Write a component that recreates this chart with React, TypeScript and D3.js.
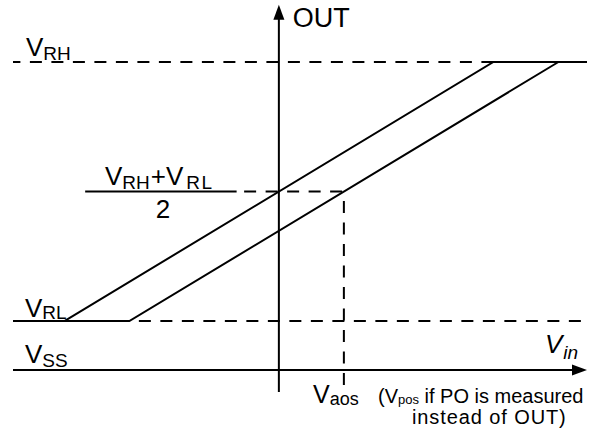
import * as d3 from "d3";

// levels on the OUT axis: VSS, VRL, VRH
const levelNames = ["VSS", "VRL", "VRH"];
const outLevels = [0, 1, 6.3];
const midLevel = (outLevels[1] + outLevels[2]) / 2;

// axis extents (Vin, OUT)
const vinExtent = [-4.09, 4.74];
const outExtent = [-0.45, 7.47];
const vaos = 1;

// transfer curves: ideal (through origin) and with offset Vaos
const curveIdeal: [number, number][] = [
  [-3.3, 1],
  [3.3, 6.3],
  [4.74, 6.3],
];
const curveOffset: [number, number][] = [
  [-4.09, 1],
  [-2.3, 1],
  [4.3, 6.3],
];

// fraction bar under (VRH+VRL)/2
const fracBar = [-2.98, -0.65];

const W = 590;
const H = 434;
const FONT = "'Liberation Sans', Arial, sans-serif";

function Sub({ x, y, main, sub, size = 26, subSize = 19, dy = 4, italic = false, gap = 0 }: any) {
  return (
    <text x={x} y={y} fontSize={size} fontFamily={FONT} fontStyle={italic ? "italic" : "normal"} fill="#000">
      <tspan>{main}</tspan>
      <tspan dx={gap} dy={dy} fontSize={subSize}>{sub}</tspan>
    </text>
  );
}

export default function App() {
  const x = d3.scaleLinear().domain(vinExtent).range([13, 587]);
  const y = d3.scaleLinear().domain([outLevels[0], outLevels[2]]).range([370, 62]);

  const line = d3
    .line<[number, number]>()
    .x((d) => x(d[0]))
    .y((d) => y(d[1]));

  const dash = "12,9.5";
  const sw = 2;
  const x0 = x(0);
  const yTop = y(outExtent[1]);
  const xEnd = x(vinExtent[1]);

  return (
    <svg width={W} height={H} style={{ position: "absolute", left: 0, top: 0, background: "#fff" }}>
      <g fill="none" stroke="#000" strokeWidth={sw}>
        {/* VRH dashed */}
        <line x1={x(curveIdeal[1][0])} x2={x(vinExtent[0])} y1={y(outLevels[2])} y2={y(outLevels[2])} strokeDasharray={dash} />
        {/* mid level: fraction bar + dashed to Vaos */}
        <line x1={x(fracBar[0])} x2={x(fracBar[1])} y1={y(midLevel)} y2={y(midLevel)} />
        <line x1={x(fracBar[1])} x2={x(vaos)} y1={y(midLevel)} y2={y(midLevel)} strokeDasharray={dash} strokeDashoffset={14} />
        {/* VRL dashed */}
        <line x1={x(curveOffset[1][0])} x2={W} y1={y(outLevels[1])} y2={y(outLevels[1])} strokeDasharray={dash} strokeDashoffset={12} />
        {/* Vaos vertical */}
        <line x1={x(vaos)} x2={x(vaos)} y1={y(midLevel)} y2={y(outExtent[0])} strokeDasharray={dash} strokeDashoffset={12} />
        {/* curves */}
        <path d={line(curveIdeal) ?? ""} />
        <path d={line(curveOffset) ?? ""} />
        {/* axes */}
        <line x1={x0} x2={x0} y1={y(outExtent[0])} y2={yTop + 12} />
        <line x1={x(vinExtent[0])} x2={xEnd - 12} y1={y(outLevels[0])} y2={y(outLevels[0])} />
      </g>
      <polygon points={`${x0},${yTop} ${x0 - 5.5},${yTop + 15} ${x0 + 5.5},${yTop + 15}`} fill="#000" />
      <polygon
        points={`${xEnd},${y(0)} ${xEnd - 15},${y(0) - 5.5} ${xEnd - 15},${y(0) + 5.5}`}
        fill="#000"
      />

      <text x={x0 + 14} y={27} fontSize={27} fontFamily={FONT} fill="#000">OUT</text>

      <Sub x={26} y={56} main="V" sub="RH" />
      <Sub x={25} y={317} main="V" sub="RL" dy={2} />
      <Sub x={25} y={363} main="V" sub={levelNames[0].slice(1)} dy={4} />

      <text x={105} y={185} fontSize={26} fontFamily={FONT} fill="#000">
        <tspan>V</tspan>
        <tspan dy={4} fontSize={19}>RH</tspan>
        <tspan dx={1} dy={-4}>+V</tspan>
        <tspan dx={3} dy={4} fontSize={19} letterSpacing={1.5}>RL</tspan>
      </text>
      <text x={(x(fracBar[0]) + x(fracBar[1])) / 2 + 2} y={218} fontSize={26} fontFamily={FONT} textAnchor="middle" fill="#000">2</text>

      <Sub x={545} y={353} main="V" sub="in" italic dy={6} gap={1} />

      <Sub x={313} y={403} main="V" sub="aos" size={25} subSize={18} dy={2} />
      <text x={378} y={403} fontSize={20} fontFamily={FONT} fill="#000">
        <tspan>(V</tspan>
        <tspan dy={1} fontSize={13}>pos</tspan>
        <tspan dy={-1}> if PO is measured</tspan>
      </text>
      <text x={412} y={424} fontSize={20} fontFamily={FONT} letterSpacing={0.9} fill="#000">instead of OUT)</text>
    </svg>
  );
}
